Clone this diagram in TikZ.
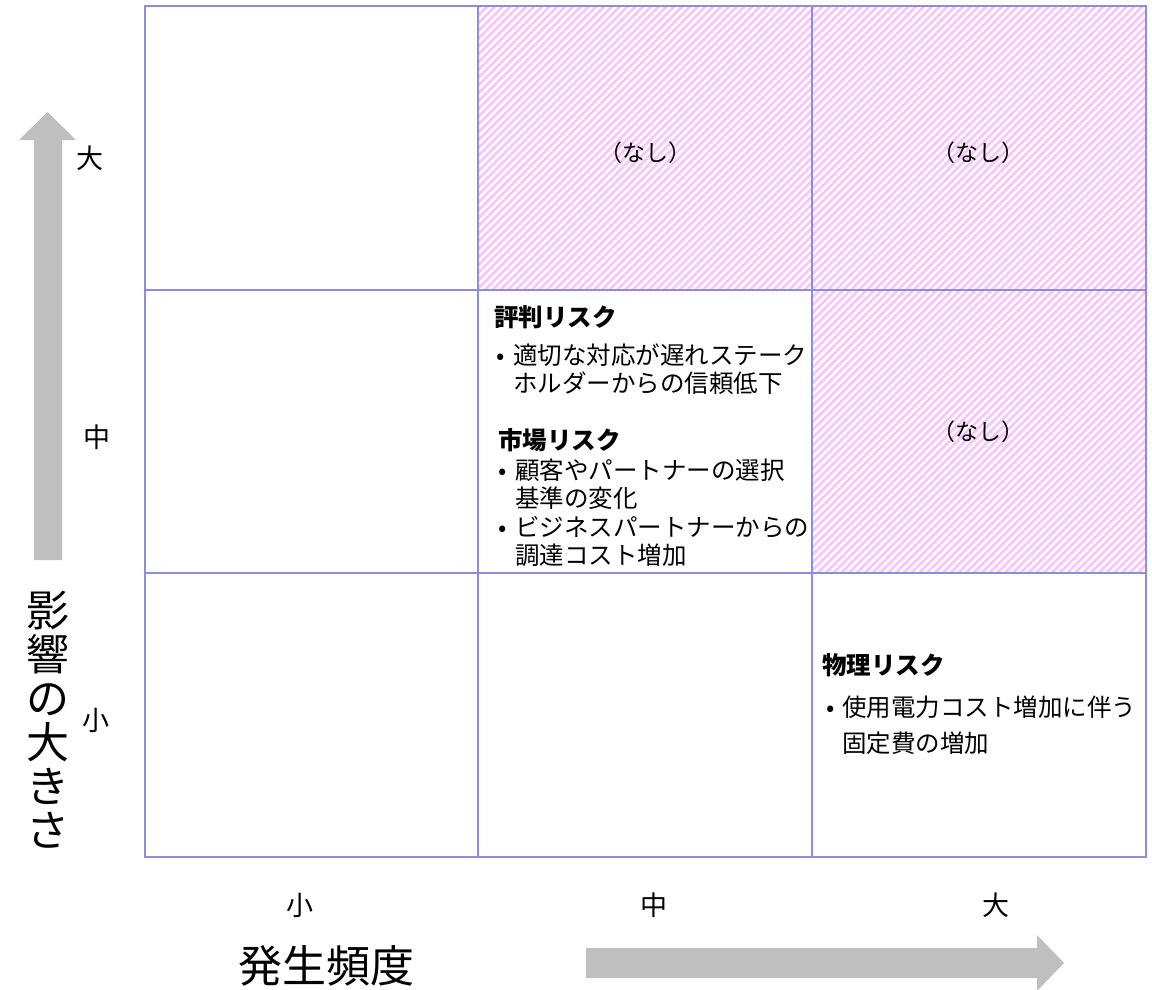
\documentclass[tikz,border=0pt]{standalone}
\usepackage{fontspec}
\setmainfont{Noto Sans CJK JP}
\newfontfamily\jph[RawFeature=+halt]{Noto Sans CJK JP}
\definecolor{gridc}{RGB}{140,140,224}
\definecolor{hatchc}{RGB}{252,196,252}
\definecolor{arrowc}{RGB}{191,191,191}
\tikzset{
  body/.style={anchor=base west, inner sep=0pt, font=\fontsize{24.5}{30}\selectfont},
  head/.style={anchor=base west, inner sep=0pt, font=\fontsize{24.5}{30}\selectfont\bfseries},
  nashi/.style={inner sep=0pt, font=\jph\fontsize{23}{28}\selectfont},
  tick/.style={inner sep=0pt, font=\fontsize{27}{30}\selectfont},
  axis/.style={inner sep=0pt, font=\fontsize{44}{46}\selectfont},
  gridline/.style={draw=gridc, line width=1.8pt},
}
\begin{document}
\begin{tikzpicture}[x=1pt,y=-1pt]
\useasboundingbox (0,0) rectangle (1152,989);
\fill[white] (0,0) rectangle (1152,989);
% hatching
\begin{scope}
\clip (478,6) -- (1146,6) -- (1146,573) -- (812,573) -- (812,290) -- (478,290) -- cycle;
\foreach \i in {0,...,175} \draw[hatchc, line width=2.7pt] ({478-600+\i*7.8},600) -- ++(600,-600);
\end{scope}
% grid
\draw[gridline] (145,6) rectangle (1146,857);
\draw[gridline] (478,6) -- (478,857);
\draw[gridline] (812,6) -- (812,857);
\draw[gridline] (145,290) -- (1146,290);
\draw[gridline] (145,573) -- (1146,573);
% (nashi)
\node[nashi] (n1) at (645,153) {（なし）};
\node[nashi] (n2) at (978,153) {（なし）};
\node[nashi] (n3) at (978,432) {（なし）};
% middle cell (baselines)
\node[head] (h1) at (494,326) {評判リスク};
\node[body] (b1) at (496,364) {•};
\node[body] (t1) at (513,364) {適切な対応が遅れステーク};
\node[body] (t2) at (513,392) {ホルダーからの信頼低下};
\node[head] (h2) at (498,449) {市場リスク};
\node[body] (b2) at (498,479) {•};
\node[body] (t3) at (515,479) {顧客やパートナーの選択};
\node[body] (t4) at (515,507) {基準の変化};
\node[body] (b3) at (498,536) {•};
\node[body] (t5) at (515,536) {ビジネスパートナーからの};
\node[body] (t6) at (515,564) {調達コスト増加};
% bottom right cell
\node[head] (h3) at (822,674) {物理リスク};
\node[body] (b4) at (826,716) {•};
\node[body] (t7) at (842,716) {使用電力コスト増加に伴う};
\node[body] (t8) at (842,752) {固定費の増加};
% axis ticks
\node[tick] (ly1) at (90,158) {大};
\node[tick] (ly2) at (97,437) {中};
\node[tick] (ly3) at (96,720) {小};
\node[tick] (lx1) at (300,905) {小};
\node[tick] (lx2) at (654,905) {中};
\node[tick] (lx3) at (996,905) {大};
% axis titles
\node[axis] (xt) at (326,966) {発生頻度};
\node[axis, align=center, font=\fontsize{43}{44}\selectfont] (yt) at (48,720) {影\\響\\の\\大\\き\\さ};
% arrows
\fill[arrowc] (34,560) -- (34,140) -- (19,140) -- (47.5,112) -- (76,140) -- (62,140) -- (62,560) -- cycle;
\fill[arrowc] (586,948) -- (1037,948) -- (1037,935) -- (1064,963) -- (1037,991) -- (1037,978) -- (586,978) -- cycle;
\end{tikzpicture}
\end{document}
